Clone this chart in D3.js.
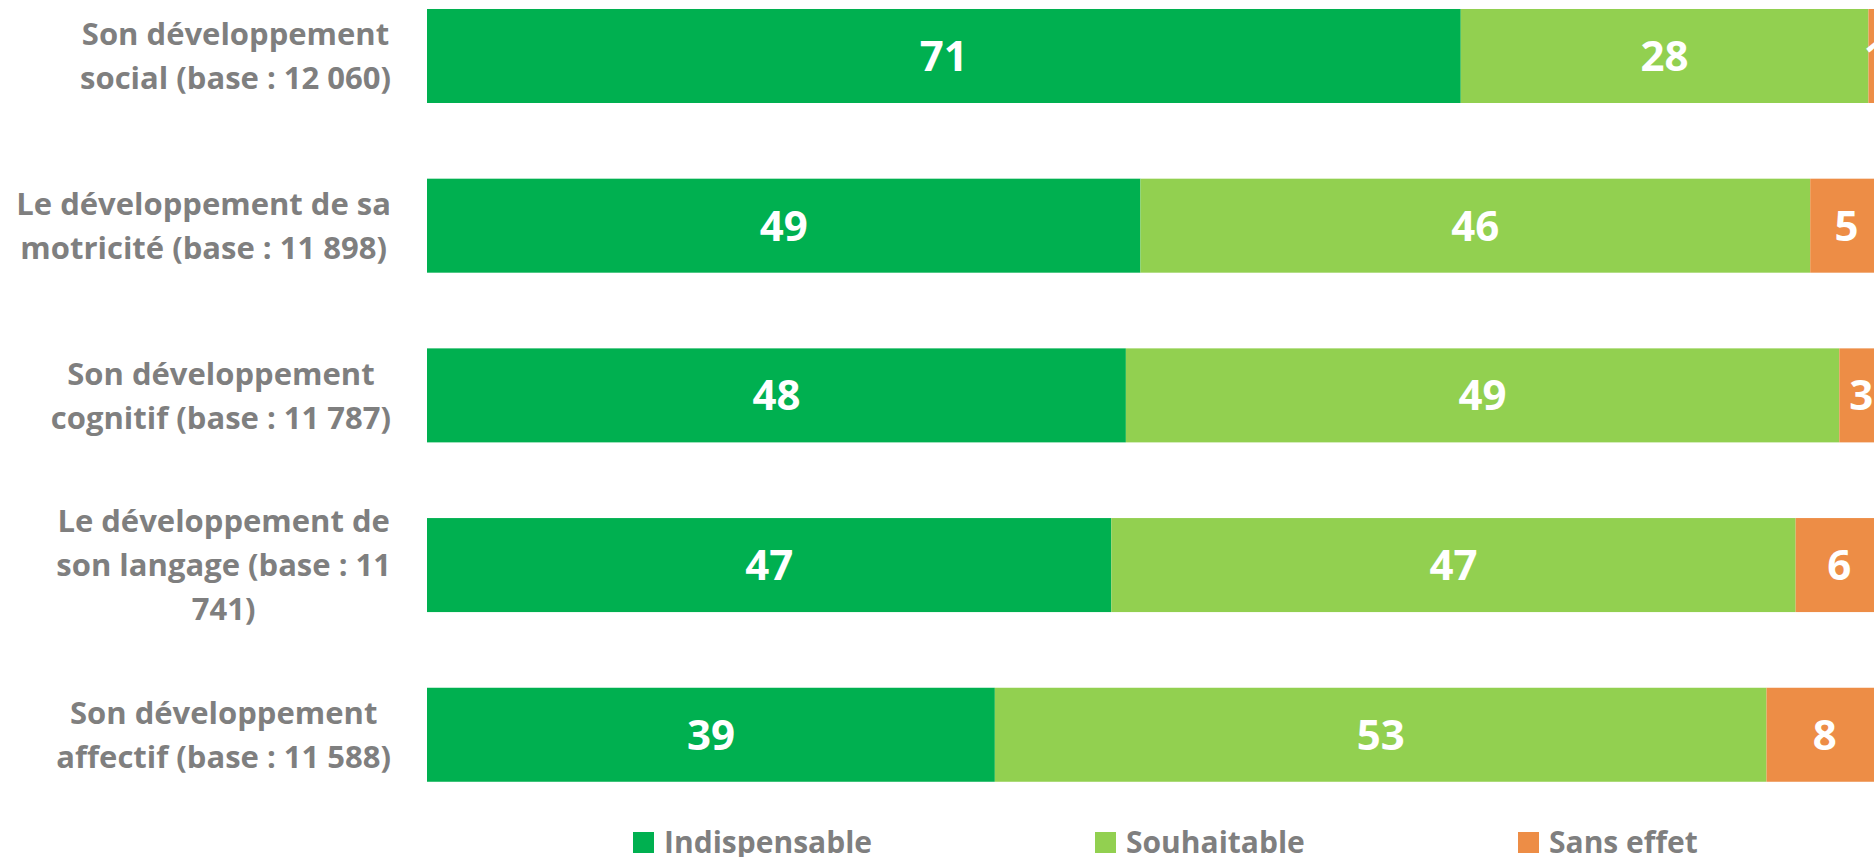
<!DOCTYPE html>
<html>
<head>
<meta charset="utf-8">
<script src="https://cdn.jsdelivr.net/npm/d3@7"></script>
<style>
html, body { margin: 0; padding: 0; background: #fff; overflow: hidden; }
svg { display: block; font-family: "Open Sans", sans-serif; }
</style>
</head>
<body>
<svg id="chart" width="1874" height="857"></svg>
<script>
const categories = [
  ["Son développement", "social (base : 12 060)"],
  ["Le développement de sa", "motricité (base : 11 898)"],
  ["Son développement", "cognitif (base : 11 787)"],
  ["Le développement de", "son langage (base : 11", "741)"],
  ["Son développement", "affectif (base : 11 588)"]
];
const seriesNames = ["Indispensable", "Souhaitable", "Sans effet"];
const indispensable = [71, 49, 48, 47, 39];
const souhaitable = [28, 46, 49, 47, 53];
const sansEffet = [1, 5, 3, 6, 8];
const colors = ["#00B050", "#92D050", "#ED8D46"];

const svg = d3.select("#chart");
const series = [indispensable, souhaitable, sansEffet];

const x = d3.scaleLinear().domain([0, 100]).range([427, 1883]);
const y = d3.scaleBand()
  .domain(d3.range(categories.length))
  .range([-28.85, 819.6])
  .paddingInner(0.446)
  .paddingOuter(0.223);

const rows = categories.map((c, i) => {
  let acc = 0;
  return series.map((s, k) => {
    const seg = { row: i, k, v: s[i], x0: acc, x1: acc + s[i] };
    acc += s[i];
    return seg;
  });
});

const g = svg.append("g");
rows.forEach(segs => {
  g.selectAll(null).data(segs).enter().append("rect")
    .attr("x", d => x(d.x0))
    .attr("y", d => y(d.row))
    .attr("width", d => x(d.x1) - x(d.x0))
    .attr("height", y.bandwidth())
    .attr("fill", d => colors[d.k]);
  g.selectAll(null).data(segs).enter().append("text")
    .attr("x", d => (x(d.x0) + x(d.x1)) / 2)
    .attr("y", d => y(d.row) + y.bandwidth() / 2)
    .attr("dy", "0.36em")
    .attr("text-anchor", "middle")
    .attr("fill", "#fff")
    .attr("font-weight", 700)
    .attr("font-size", 42)
    .text(d => d.v);
});

// category labels: block right-aligned, lines centered in block
const labelRight = 391;
const lineH = 44;
const fs = 31;
categories.forEach((lines, i) => {
  const cy = y(i) + y.bandwidth() / 2;
  const n = lines.length;
  const texts = lines.map((t, j) => svg.append("text")
    .attr("y", cy + (j - (n - 1) / 2) * lineH + 0.36 * fs)
    .attr("text-anchor", "middle")
    .attr("fill", "#7F7F7F")
    .attr("font-weight", 700)
    .attr("font-size", fs)
    .text(t));
  const W = d3.max(texts, t => t.node().getComputedTextLength());
  texts.forEach(t => t.attr("x", labelRight - W / 2));
});

// legend
const legendX = [633, 1095, 1518];
const legend = svg.append("g");
seriesNames.forEach((name, k) => {
  legend.append("rect")
    .attr("x", legendX[k]).attr("y", 832)
    .attr("width", 21).attr("height", 21)
    .attr("fill", colors[k]);
  legend.append("text")
    .attr("x", legendX[k] + 31).attr("y", 842)
    .attr("dy", "0.36em")
    .attr("fill", "#7F7F7F")
    .attr("font-weight", 700)
    .attr("font-size", 30)
    .text(name);
});
</script>
</body>
</html>
